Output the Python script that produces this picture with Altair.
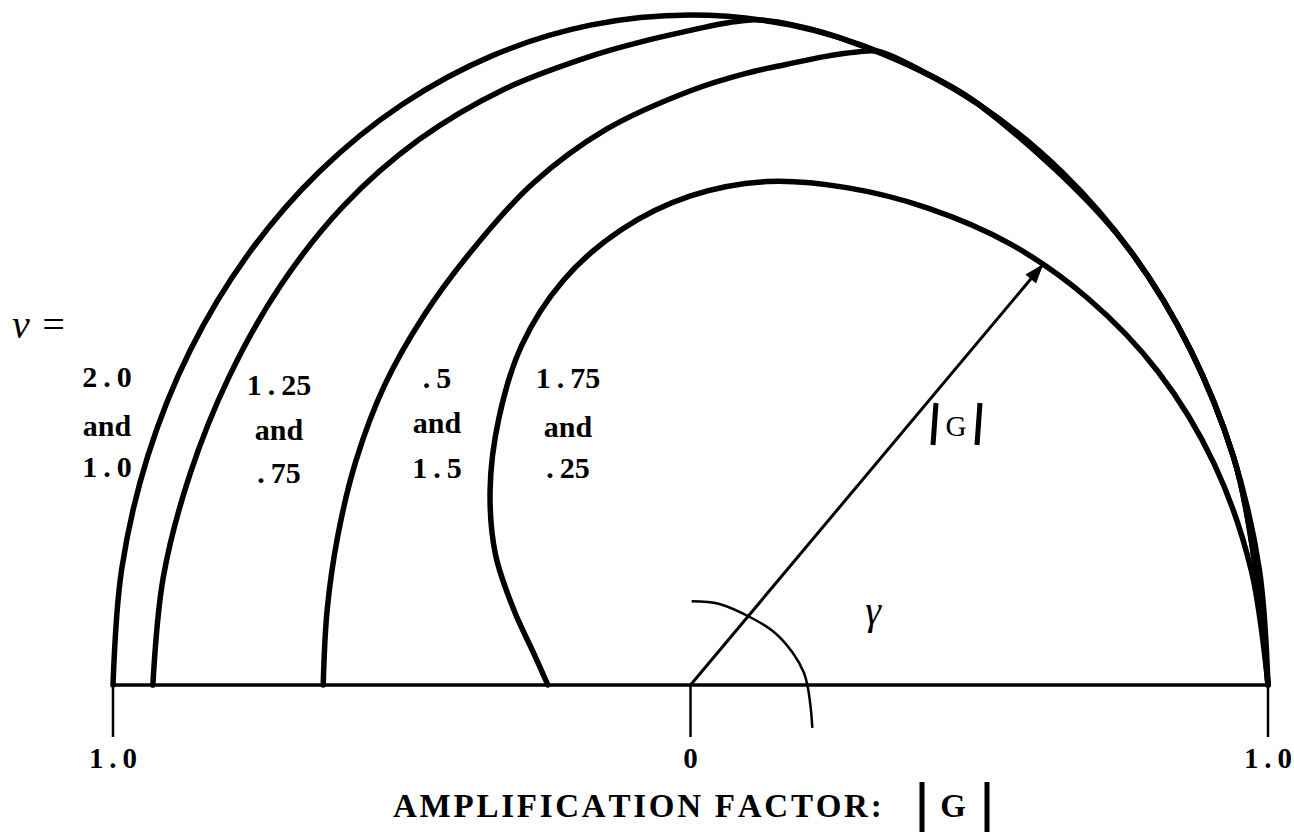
import math

import altair as alt
import pandas as pd

# ---------------------------------------------------------------------------
# Loci of the amplification factor G, read as phase angle gamma (degrees)
# and modulus |G|, one pair of lists per pair of Courant numbers nu.
# ---------------------------------------------------------------------------
gamma_nu_20_10 = [0, 10, 20, 30, 40, 50, 60, 70, 80, 90,
                  100, 110, 120, 130, 140, 150, 160, 170, 180]
amp_nu_20_10 = [1.0, 1.0, 1.0, 1.0, 1.0, 1.0, 1.0, 1.0, 1.0, 1.0,
                1.0, 1.0, 1.0, 1.0, 1.0, 1.0, 1.0, 1.0, 1.0]

gamma_nu_125_075 = [0, 20, 40, 60, 75, 83, 85, 87, 90, 95,
                    100, 110, 120, 130, 140, 150, 160, 170, 180]
amp_nu_125_075 = [1.0, 1.0, 1.0, 1.0, 1.0, 1.0, 0.995, 0.988, 0.977, 0.964,
                  0.955, 0.946, 0.940, 0.934, 0.927, 0.922, 0.922, 0.927, 0.931]

gamma_nu_05_15 = [0, 20, 40, 60, 66, 71, 73, 76, 80, 84, 90,
                  100, 110, 120, 130, 140, 150, 160, 170, 180]
amp_nu_05_15 = [1.0, 1.0, 1.0, 1.0, 1.0, 1.0, 0.988, 0.967, 0.940, 0.918, 0.887,
                0.842, 0.797, 0.752, 0.719, 0.693, 0.669, 0.650, 0.639, 0.636]

gamma_nu_175_025 = [0, 10, 20, 30, 40, 50, 60, 70, 80, 90,
                    100, 110, 120, 130, 140, 150, 160, 170, 180]
amp_nu_175_025 = [1.0, 0.986, 0.965, 0.935, 0.898, 0.860, 0.822, 0.790, 0.763, 0.730,
                  0.690, 0.643, 0.585, 0.517, 0.453, 0.390, 0.325, 0.276, 0.247]

# Courant-number pairs written beside each locus
nu_pairs = [("2.0", "1.0"), ("1.25", ".75"), (".5", "1.5"), ("1.75", ".25")]

# |G| axis
tick_values = [-1.0, 0.0, 1.0]
tick_labels = ["1.0", "0", "1.0"]

# the |G| vector drawn out to the nu = 1.75 / .25 locus
arrow_gamma = 45.8
arrow_amp = 0.876

# small arc marking the angle gamma (Re, Im of G)
arc_re = [0.002, 0.050, 0.106, 0.146, 0.177, 0.196, 0.203, 0.208, 0.211]
arc_im = [0.125, 0.121, 0.100, 0.078, 0.048, 0.019, -0.003, -0.033, -0.064]

# ---------------------------------------------------------------------------
# Canvas and shared scales
# ---------------------------------------------------------------------------
W, H = 1294, 835
X_DOMAIN = [-1.19567, 1.04502]
Y_DOMAIN = [-0.22388, 1.02239]
PX_X = W / (X_DOMAIN[1] - X_DOMAIN[0])
PX_Y = H / (Y_DOMAIN[1] - Y_DOMAIN[0])

xs = alt.Scale(domain=X_DOMAIN, nice=False, zero=False)
ys = alt.Scale(domain=Y_DOMAIN, nice=False, zero=False)

SERIF = "Liberation Serif"
THIN = "\u2009"
HAIR = "\u200a"


def data_x(px):
    return X_DOMAIN[0] + px / PX_X


def data_y(py):
    return Y_DOMAIN[1] - py / PX_Y


def tracked(number):
    """Open up the decimal point the way the lettering is spaced."""
    return number.replace(".", THIN + "." + THIN).strip(THIN)


def X(field):
    return alt.X(field, type="quantitative", scale=xs, axis=None)


def Y(field):
    return alt.Y(field, type="quantitative", scale=ys, axis=None)


# ---------------------------------------------------------------------------
# Loci
# ---------------------------------------------------------------------------
series = [
    ("2.0 and 1.0", gamma_nu_20_10, amp_nu_20_10),
    ("1.25 and .75", gamma_nu_125_075, amp_nu_125_075),
    (".5 and 1.5", gamma_nu_05_15, amp_nu_05_15),
    ("1.75 and .25", gamma_nu_175_025, amp_nu_175_025),
]
rows = []
for name, gammas, amps in series:
    for i, (g, a) in enumerate(zip(gammas, amps)):
        rows.append({"curve": name, "idx": i, "gamma": g, "amp": a})
loci = pd.DataFrame(rows)

loci_layer = (
    alt.Chart(loci)
    .transform_calculate(
        re="datum.amp * cos(datum.gamma * PI / 180)",
        im="datum.amp * sin(datum.gamma * PI / 180)",
    )
    .mark_line(interpolate="catmull-rom", color="black", strokeWidth=5.5,
               strokeCap="round", strokeJoin="round")
    .encode(x=X("re"), y=Y("im"), detail="curve:N", order="idx:Q")
)

# ---------------------------------------------------------------------------
# Axis line, ticks and tick labels
# ---------------------------------------------------------------------------
base_df = pd.DataFrame({"x": [tick_values[0]], "x2": [tick_values[-1]], "y": [0.0]})
baseline = (
    alt.Chart(base_df)
    .mark_rule(color="black", strokeWidth=3.5)
    .encode(x=X("x"), x2="x2:Q", y=Y("y"))
)

tick_df = pd.DataFrame({
    "value": tick_values,
    "label": [tracked(t) for t in tick_labels],
    "y": 0.0,
    "y2": data_y(737),
    "ty": data_y(768),
})
ticks = (
    alt.Chart(tick_df)
    .mark_rule(color="black", strokeWidth=2.5)
    .encode(x=X("value"), y=Y("y"), y2="y2:Q")
)
tick_text = (
    alt.Chart(tick_df)
    .mark_text(font=SERIF, fontSize=29, fontWeight="bold", align="center",
               baseline="alphabetic", color="black")
    .encode(x=X("value"), y=Y("ty"), text="label:N")
)

# ---------------------------------------------------------------------------
# |G| vector, arrowhead and gamma arc
# ---------------------------------------------------------------------------
tip_re = arrow_amp * math.cos(math.radians(arrow_gamma))
tip_im = arrow_amp * math.sin(math.radians(arrow_gamma))
head_angle = math.degrees(math.atan2(tip_re * PX_X, tip_im * PX_Y))

arrow_df = pd.DataFrame({"x": [0.0], "y": [0.0], "x2": [tip_re], "y2": [tip_im]})
arrow_line = (
    alt.Chart(arrow_df)
    .mark_rule(color="black", strokeWidth=3)
    .encode(x=X("x"), y=Y("y"), x2="x2:Q", y2="y2:Q")
)
arrow_head = (
    alt.Chart(arrow_df)
    .mark_point(shape="M0,0L0.36,1L-0.36,1Z", filled=True, size=1500,
                angle=head_angle, color="black", opacity=1, strokeWidth=0)
    .encode(x=X("x2"), y=Y("y2"))
)

arc_df = pd.DataFrame({"idx": range(len(arc_re)), "re": arc_re, "im": arc_im})
gamma_arc = (
    alt.Chart(arc_df)
    .mark_line(interpolate="catmull-rom", color="black", strokeWidth=2.5)
    .encode(x=X("re"), y=Y("im"), order="idx:Q")
)

# ---------------------------------------------------------------------------
# Lettering
# ---------------------------------------------------------------------------
label_columns = [107, 279, 437, 568]
label_rows = [(387, 436, 477), (395, 440, 483), (388, 433, 478), (388, 437, 478)]

label_recs = []
for (top, bottom), px, pys in zip(nu_pairs, label_columns, label_rows):
    for text, py in zip([tracked(top), "and", tracked(bottom)], pys):
        label_recs.append({"text": text, "x": data_x(px), "y": data_y(py)})
nu_labels = (
    alt.Chart(pd.DataFrame(label_recs))
    .mark_text(font=SERIF, fontSize=30, fontWeight="bold", align="center",
               baseline="alphabetic", color="black")
    .encode(x=X("x"), y=Y("y"), text="text:N")
)


def single_text(text, px, py, **kw):
    df = pd.DataFrame({"text": [text], "x": [data_x(px)], "y": [data_y(py)]})
    style = dict(font=SERIF, baseline="alphabetic", color="black")
    style.update(kw)
    return alt.Chart(df).mark_text(**style).encode(x=X("x"), y=Y("y"), text="text:N")


nu_symbol = single_text("\u03bd =", 12, 338, fontSize=40, fontStyle="italic", align="left")
gamma_symbol = single_text("\u03b3", 873, 624, fontSize=40, fontStyle="italic", align="center")
vector_g = single_text("G", 956, 436, fontSize=29, align="center")

title_text = HAIR.join("AMPLIFICATION FACTOR:")
axis_title = single_text(title_text, 393, 817, fontSize=33, fontWeight="bold", align="left")
axis_title_g = single_text("G", 953, 817, fontSize=33, fontWeight="bold", align="center")

# modulus bars around the G's
bars_df = pd.DataFrame({
    "x": [data_x(936), data_x(980), data_x(922), data_x(987)],
    "x2": [data_x(933), data_x(977), data_x(922), data_x(987)],
    "y": [data_y(403), data_y(403), data_y(782), data_y(782)],
    "y2": [data_y(445), data_y(445), data_y(832), data_y(832)],
})
bars = (
    alt.Chart(bars_df)
    .mark_rule(color="black", strokeWidth=5)
    .encode(x=X("x"), x2="x2:Q", y=Y("y"), y2="y2:Q")
)

chart = (
    alt.layer(
        baseline, ticks, tick_text, gamma_arc, arrow_line, arrow_head,
        loci_layer, nu_labels, nu_symbol, gamma_symbol, vector_g,
        axis_title, axis_title_g, bars,
    )
    .properties(width=W, height=H, padding=0, background="white",
                autosize=alt.AutoSizeParams(type="none"))
    .configure_view(stroke=None)
)

chart.save("out.html", embed_options={"renderer": "svg", "actions": False})
